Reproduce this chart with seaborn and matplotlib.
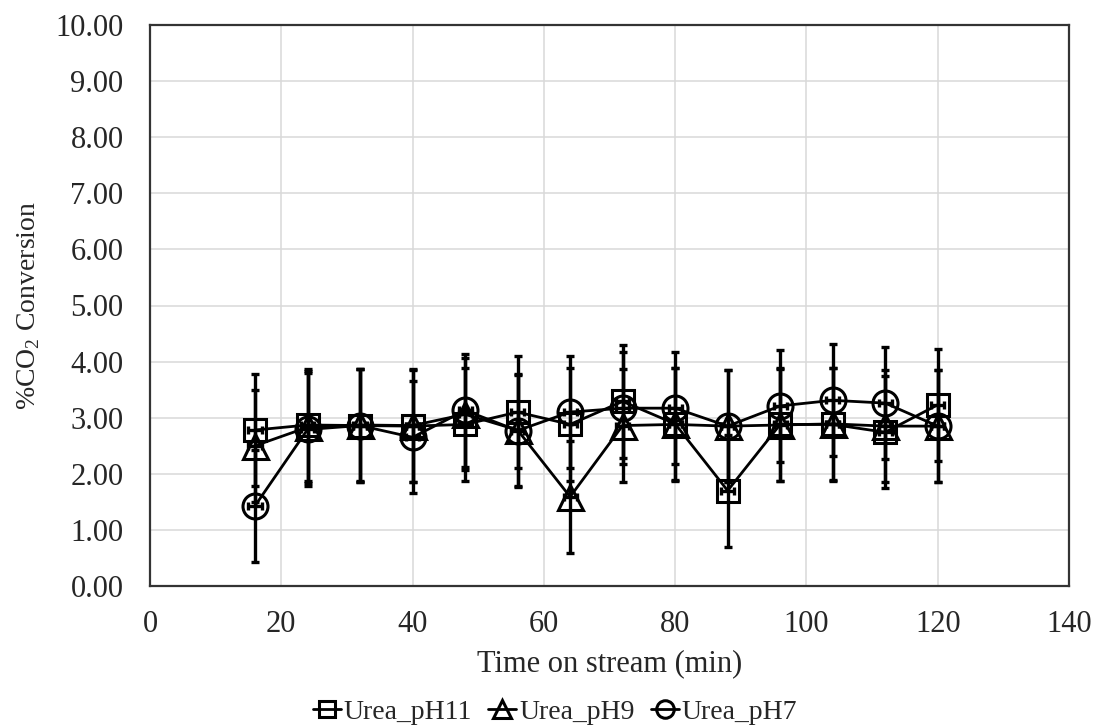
import pandas as pd
import numpy as np
import matplotlib
matplotlib.use('Agg')
import matplotlib.pyplot as plt
import seaborn as sns

sns.set_style('ticks')
plt.rcParams['font.family'] = ['Liberation Serif', 'DejaVu Serif']
plt.rcParams['mathtext.fontset'] = 'custom'
plt.rcParams['mathtext.rm'] = 'Liberation Serif'

# Data
time_min = [16, 24, 32, 40, 48, 56, 64, 72, 80, 88, 96, 104, 112, 120]
urea_ph11 = [2.78, 2.87, 2.86, 2.85, 2.88, 3.10, 2.88, 3.29, 2.89, 1.70, 2.88, 2.88, 2.74, 3.23]
urea_ph9 = [2.50, 2.83, 2.87, 2.86, 3.06, 2.78, 1.59, 2.86, 2.88, 2.85, 2.87, 2.89, 2.85, 2.85]
urea_ph7 = [1.43, 2.79, 2.86, 2.65, 3.13, 2.77, 3.10, 3.17, 3.17, 2.85, 3.21, 3.31, 3.26, 2.85]
err_ph11 = [1.0] * 14
err_ph9 = [1.0] * 14
err_ph7 = [1.0] * 14
time_err = 1.0

series = [
    ('Urea_pH11', urea_ph11, err_ph11, 's', 16.5),
    ('Urea_pH9', urea_ph9, err_ph9, '^', 18),
    ('Urea_pH7', urea_ph7, err_ph7, 'o', 18),
]

fig = plt.figure(figsize=(10.96, 7.27), dpi=100)
# axes box: x 150-1069 px, y 25-586 px
ax = fig.add_axes([150 / 1096, 1 - 586 / 727, 919 / 1096, 561 / 727])

for name, vals, errs, mk, ms in series:
    df = pd.DataFrame({'time': time_min, 'conv': vals})
    sns.lineplot(data=df, x='time', y='conv', ax=ax, color='black', linewidth=2,
                 marker=mk, markersize=ms, markerfacecolor='none',
                 markeredgecolor='black', markeredgewidth=2.2, label=name, legend=False)
    ax.errorbar(time_min, vals, yerr=errs, xerr=time_err, fmt='none', ecolor='black',
                elinewidth=2.4, capsize=2.7, capthick=2.4)

ax.set_xlim(0, 140)
ax.set_ylim(0, 10)
ax.set_xticks(np.arange(0, 141, 20))
ax.set_yticks(np.arange(0, 10.01, 1))
ax.set_yticklabels([f'{v:.2f}' for v in np.arange(0, 10.01, 1)])
ax.tick_params(axis='both', length=0, labelsize=22)
ax.tick_params(axis='x', pad=17)
ax.tick_params(axis='y', pad=19)
ax.grid(True, color='#d9d9d9', linewidth=1.1)
for sp in ax.spines.values():
    sp.set_color('#333333')
    sp.set_linewidth(1.6)

ax.set_xlabel('Time on stream (min)', fontsize=22)
ax.set_ylabel('%CO$_2$ Conversion', fontsize=20)
ax.xaxis.set_label_coords(0.5, -0.112)
ax.yaxis.set_label_coords(-0.117, 0.5)

leg_handles = [l for l in ax.get_lines() if not l.get_label().startswith('_')]
fig.legend(handles=leg_handles, labels=[s[0] for s in series],
           loc='center', bbox_to_anchor=(555 / 1096, 1 - 712 / 727), ncol=3, frameon=False,
           fontsize=20, handlelength=1.0, handletextpad=0.1, columnspacing=0.6,
           markerscale=0.7, borderaxespad=0, borderpad=0)

fig.savefig('out.png', dpi=100)
